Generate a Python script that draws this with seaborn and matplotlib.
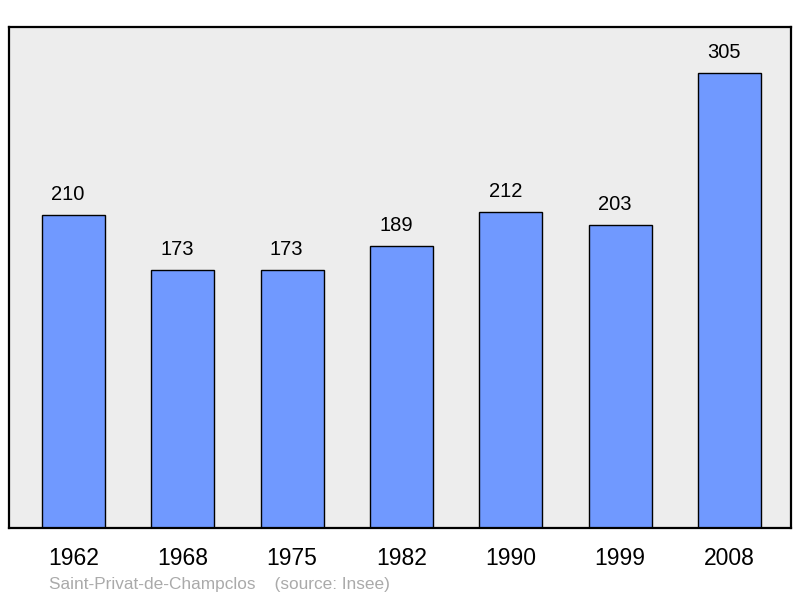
import pandas as pd
import matplotlib
matplotlib.use("Agg")
import matplotlib.pyplot as plt
import seaborn as sns

# data
years = ["1962", "1968", "1975", "1982", "1990", "1999", "2008"]
population = [210, 173, 173, 189, 212, 203, 305]

df = pd.DataFrame({"year": years, "pop": population})

sns.set_style("white")
plt.rcParams['font.family'] = ['Liberation Sans', 'DejaVu Sans']
plt.rcParams['text.color'] = 'black'
plt.rcParams['xtick.color'] = 'black'

fig = plt.figure(figsize=(8, 5.98), dpi=100)
ax = fig.add_axes([9/800, 70/598, 782/800, 501/598])
ax.set_facecolor("#ededed")

sns.barplot(data=df, x="year", y="pop", color="#7099ff", width=0.576,
            edgecolor="black", linewidth=1.0, saturation=1, ax=ax)

for i, v in enumerate(population):
    ax.annotate(str(v), (i, v), xytext=(-4, 15), textcoords="offset points",
                ha="center", va="center", fontsize=14.5, color="black")

ax.set_xlim(-0.59, 6.5625)
ax.set_ylim(0, 336)
ax.set_yticks([])
ax.set_xlabel("")
ax.set_ylabel("")
ax.tick_params(axis="x", length=0, pad=14, labelsize=16.5, labelcolor="black")
for lbl in ax.get_xticklabels():
    lbl.set_x(lbl.get_position()[0])
for s in ax.spines.values():
    s.set_visible(True)
    s.set_color("black")
    s.set_linewidth(1.6)

fig.text(49/800, 1 - 584/598, "Saint-Privat-de-Champclos    (source: Insee)",
         color="#aaaaaa", fontsize=12.4, va="center", ha="left")

fig.savefig("out.png", dpi=100)
